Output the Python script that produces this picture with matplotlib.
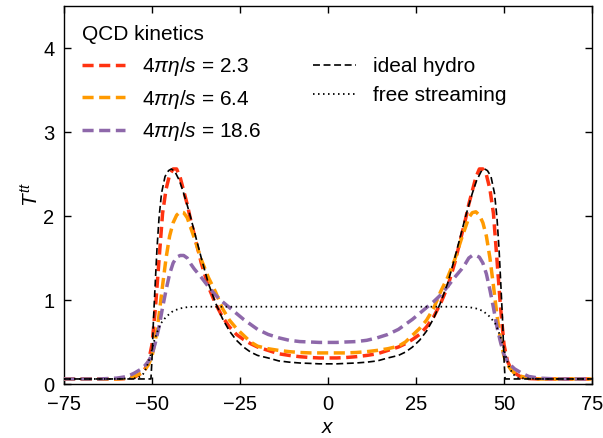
import matplotlib
matplotlib.use("Agg")
import matplotlib.pyplot as plt

plt.rcParams['font.family'] = ['Liberation Sans', 'DejaVu Sans']
plt.rcParams['mathtext.fontset'] = 'custom'
plt.rcParams['mathtext.it'] = 'Liberation Sans:italic'
plt.rcParams['mathtext.rm'] = 'Liberation Sans'
plt.rcParams['lines.scale_dashes'] = False

# ---- data ----
x_visc = [-75, -65, -60, -57, -55, -53, -52, -51, -50, -49, -48, -47, -46, -45, -44, -43, -42, -41,
          -40, -39, -38, -36, -34, -32, -30, -28, -26, -24, -22, -20, -17, -14, -11, -8, -5, -2.5,
          0,
          2.5, 5, 8, 11, 14, 17, 20, 22, 24, 26, 28, 30, 32, 34, 36, 38, 39, 40,
          41, 42, 43, 44, 45, 46, 47, 48, 49, 50, 51, 52, 53, 55, 57, 60, 65, 75]

y_eta23 = [0.06, 0.06, 0.06, 0.065, 0.08, 0.13, 0.18, 0.27, 0.47, 0.92, 1.48, 2.03, 2.32, 2.49, 2.56, 2.56, 2.46, 2.30,
           2.14, 1.95, 1.78, 1.44, 1.16, 0.96, 0.80, 0.68, 0.59, 0.53, 0.48, 0.44, 0.40, 0.36, 0.34, 0.325, 0.315, 0.31,
           0.31,
           0.31, 0.315, 0.325, 0.34, 0.36, 0.40, 0.44, 0.48, 0.53, 0.59, 0.68, 0.80, 0.96, 1.16, 1.44, 1.78, 1.95, 2.14,
           2.30, 2.46, 2.56, 2.56, 2.49, 2.32, 2.03, 1.48, 0.92, 0.47, 0.27, 0.18, 0.13, 0.08, 0.065, 0.06, 0.06, 0.06]

y_eta64 = [0.06, 0.06, 0.06, 0.07, 0.09, 0.13, 0.17, 0.23, 0.33, 0.53, 0.82, 1.17, 1.50, 1.76, 1.92, 2.01, 2.05, 2.04,
           1.98, 1.86, 1.74, 1.48, 1.27, 1.10, 0.90, 0.76, 0.66, 0.58, 0.50, 0.45, 0.42, 0.40, 0.385, 0.375, 0.37, 0.37,
           0.37,
           0.37, 0.37, 0.375, 0.385, 0.40, 0.42, 0.45, 0.50, 0.58, 0.66, 0.76, 0.90, 1.10, 1.27, 1.48, 1.74, 1.86, 1.98,
           2.04, 2.05, 2.01, 1.92, 1.76, 1.50, 1.17, 0.82, 0.53, 0.33, 0.23, 0.17, 0.13, 0.09, 0.07, 0.06, 0.06, 0.06]

y_eta186 = [0.06, 0.06, 0.07, 0.09, 0.13, 0.18, 0.22, 0.27, 0.35, 0.50, 0.68, 0.91, 1.12, 1.31, 1.44, 1.51, 1.53, 1.53,
            1.50, 1.43, 1.37, 1.27, 1.16, 1.06, 0.98, 0.91, 0.84, 0.77, 0.71, 0.65, 0.59, 0.55, 0.52, 0.505, 0.50, 0.495,
            0.495,
            0.495, 0.50, 0.505, 0.52, 0.55, 0.59, 0.65, 0.71, 0.77, 0.84, 0.91, 0.98, 1.06, 1.16, 1.27, 1.37, 1.43, 1.50,
            1.53, 1.53, 1.51, 1.44, 1.31, 1.12, 0.91, 0.68, 0.50, 0.35, 0.27, 0.22, 0.18, 0.13, 0.09, 0.07, 0.06, 0.06]

x_hydro = [-75, -60, -50.3, -50, -49.6, -49.2, -48.6, -48, -47.3, -46.3, -45.3, -44.5, -43.5, -42.2, -41, -40, -39,
           -38, -36, -34, -32, -30, -28, -26, -24, -22, -20, -17, -14, -11, -8, -5, -2.5, 0,
           2.5, 5, 8, 11, 14, 17, 20, 22, 24, 26, 28, 30, 32, 34, 36, 38, 39, 40, 41, 42.2, 43.5, 44.5, 45.3,
           46.3, 47.3, 48, 48.6, 49.2, 49.6, 50, 50.3, 60, 75]
y_hydro = [0.06, 0.06, 0.06, 0.30, 0.75, 1.10, 1.60, 1.98, 2.27, 2.47, 2.54, 2.56, 2.53, 2.42, 2.27, 2.13, 1.98,
           1.82, 1.50, 1.20, 0.97, 0.78, 0.63, 0.52, 0.44, 0.38, 0.34, 0.31, 0.275, 0.26, 0.25, 0.245, 0.24, 0.24,
           0.24, 0.245, 0.25, 0.26, 0.275, 0.31, 0.34, 0.38, 0.44, 0.52, 0.63, 0.78, 0.97, 1.20, 1.50, 1.82, 1.98, 2.13, 2.27, 2.42, 2.53, 2.56, 2.54,
           2.47, 2.27, 1.98, 1.60, 1.10, 0.75, 0.30, 0.06, 0.06, 0.06]

x_free = [-75, -60, -54, -52.5, -51.5, -50.5, -49.5, -48.5, -47.5, -46, -44, -42, -40, -38, -20, 0,
          20, 38, 40, 42, 44, 46, 47.5, 48.5, 49.5, 50.5, 51.5, 52.5, 54, 60, 75]
y_free = [0.06, 0.06, 0.07, 0.12, 0.2, 0.33, 0.5, 0.62, 0.72, 0.80, 0.87, 0.90, 0.915, 0.92, 0.92, 0.92,
          0.92, 0.92, 0.915, 0.90, 0.87, 0.80, 0.72, 0.62, 0.5, 0.33, 0.2, 0.12, 0.07, 0.06, 0.06]

labels_visc = [r'$4\pi\eta/s$ = 2.3', r'$4\pi\eta/s$ = 6.4', r'$4\pi\eta/s$ = 18.6']
colors_visc = ['#ff3311', '#ff9a00', '#8e68aa']
x_ticks = [-75, -50, -25, 0, 25, 50, 75]
y_ticks = [0, 1, 2, 3, 4]

# ---- figure ----
fig = plt.figure(figsize=(6.03, 4.38), dpi=100)
ax = fig.add_axes([64/603, 54/438, 528/603, 378/438])

dash_c = (0, (8.0, 4.0))
dash_k = (0, (5.0, 2.6))
dot_k = (0, (1.1, 2.5))

lines_visc = []
for yv, c, lab in zip([y_eta23, y_eta64, y_eta186], colors_visc, labels_visc):
    l, = ax.plot(x_visc, yv, color=c, lw=2.5, linestyle=dash_c, label=lab, zorder=3)
    lines_visc.append(l)
lh, = ax.plot(x_hydro, y_hydro, color='black', lw=1.2, linestyle=dash_k, label='ideal hydro', zorder=4)
lf, = ax.plot(x_free, y_free, color='black', lw=1.3, linestyle=dot_k, label='free streaming', zorder=4)

ax.set_xlim(-75, 75)
ax.set_ylim(0, 4.5)
ax.set_xticks(x_ticks)
ax.set_xticklabels([str(t).replace('-', '\u2212') for t in x_ticks])
ax.set_yticks(y_ticks)
ax.tick_params(direction='in', top=True, right=True, length=5, width=1, labelsize=14.5)
ax.tick_params(axis='x', pad=8)
ax.tick_params(axis='y', pad=7)
for s in ax.spines.values():
    s.set_linewidth(1.0)
ax.set_xlabel(r'$x$', fontsize=15, labelpad=3)
ax.set_ylabel(r'$T^{tt}$', fontsize=15, labelpad=1)

leg1 = ax.legend(handles=lines_visc, loc='upper left', bbox_to_anchor=(82/603, 1 - 25/438),
                 bbox_transform=fig.transFigure, frameon=False,
                 title='QCD kinetics', title_fontsize=15, fontsize=15, handlelength=2.05,
                 handletextpad=0.85, labelspacing=0.46, borderaxespad=0, borderpad=0, alignment='left')
leg1._legend_box.sep = 8
ax.add_artist(leg1)
leg2 = ax.legend(handles=[lh, lf], loc='upper left', bbox_to_anchor=(313/603, 1 - 57/438),
                 bbox_transform=fig.transFigure, frameon=False,
                 fontsize=15, handlelength=2.05, handletextpad=0.85, labelspacing=0.5,
                 borderaxespad=0, borderpad=0)

fig.savefig('out.png', dpi=100)
